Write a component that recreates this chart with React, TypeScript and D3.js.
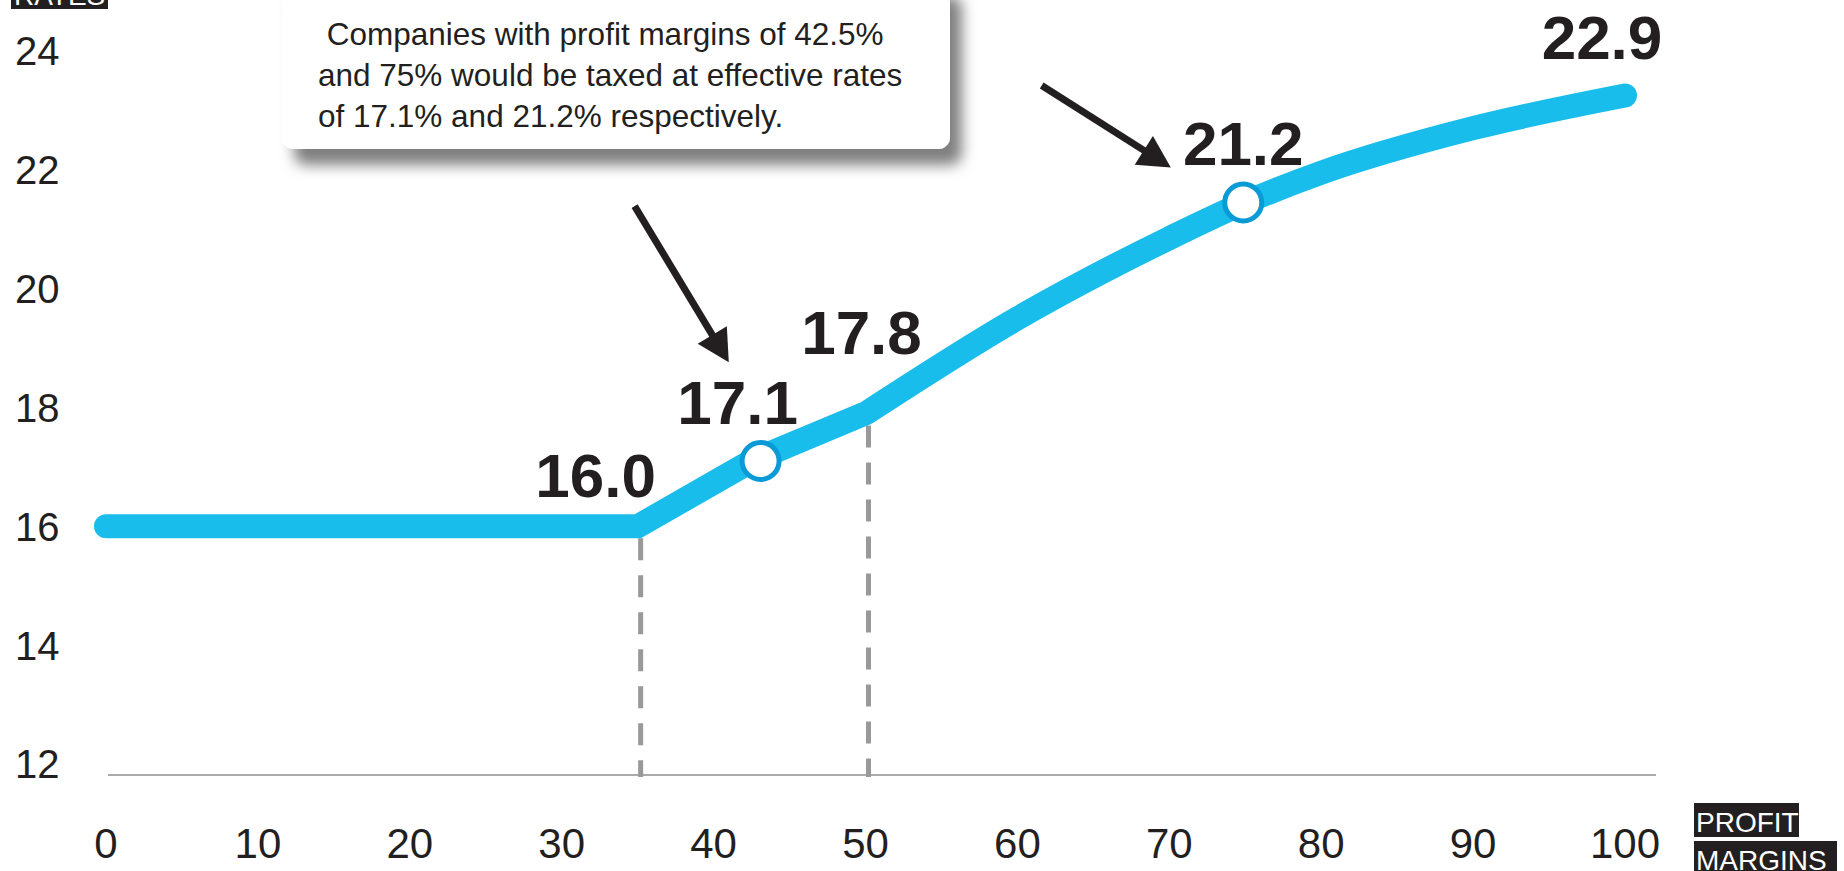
import React from "react";
import * as d3 from "d3";

// profit margin (%) -> effective tax rate (%)
const margins = [0, 35, 42.5, 50, 60, 70, 75, 80, 90, 100];
const rates = [16, 16, 17.1, 17.9, 19.5, 20.85, 21.45, 21.95, 22.7, 23.25];

// printed value labels
const labelMargins = [35, 42.5, 50, 75, 100];
const labelTexts = ["16.0", "17.1", "17.8", "21.2", "22.9"];

// highlighted companies (open circles)
const markedMargins = [42.5, 75];

// the two kinks with dashed drop lines
const kinkMargins = [35, 50];

const xTickValues = [0, 10, 20, 30, 40, 50, 60, 70, 80, 90, 100];
const yTickValues = [12, 14, 16, 18, 20, 22, 24];

const noteLines = [
  " Companies with profit margins of 42.5%",
  "and 75% would be taxed at effective rates",
  "of 17.1% and 21.2% respectively.",
];

const W = 1844, H = 871;
const font = "'Liberation Sans', Arial, Helvetica, sans-serif";
const ink = "#231f20";
const blue = "#18bdec";

const App = () => {
  const x = d3.scaleLinear().domain([0, 100]).range([106, 1625]);
  const y = d3.scaleLinear().domain([12, 24]).range([764, 51]);

  const pts: [number, number][] = margins.map((m, i) => [m, rates[i]]);
  const rateAt = (m: number) => rates[margins.indexOf(m)];

  const straight = d3.line<[number, number]>()
    .x(d => x(d[0]))
    .y(d => y(d[1]))
    .curve(d3.curveLinear);
  const bent = d3.line<[number, number]>()
    .x(d => x(d[0]))
    .y(d => y(d[1]))
    .curve(d3.curveMonotoneX);

  // straight up to the 50% kink, smooth after it
  const p1 = straight(pts.filter(d => d[0] <= 50)) || "";
  const p2 = (bent(pts.filter(d => d[0] >= 50)) || "").replace(/^M[^A-Za-z]*/, "");
  const path = p1 + p2;

  const base = y(12) + 11;

  // arrows in data space: [tailMargin, tailRate, tipMargin, tipRate]
  const arrows = [
    [34.8, 21.39, 41.0, 18.76],
    [61.6, 23.42, 70.1, 22.04],
  ];

  const arrow = (a: number[], i: number) => {
    const x0 = x(a[0]), y0 = y(a[1]), x1 = x(a[2]), y1 = y(a[3]);
    const ang = Math.atan2(y1 - y0, x1 - x0);
    const len = 32, hw = 17;
    const bx = x1 - len * Math.cos(ang), by = y1 - len * Math.sin(ang);
    const nx = -Math.sin(ang), ny = Math.cos(ang);
    return (
      <g key={"ar" + i}>
        <line x1={x0} y1={y0} x2={bx + 2 * Math.cos(ang)} y2={by + 2 * Math.sin(ang)} stroke={ink} strokeWidth={7} />
        <polygon
          points={`${x1},${y1} ${bx + nx * hw},${by + ny * hw} ${bx - nx * hw},${by - ny * hw}`}
          fill={ink}
        />
      </g>
    );
  };

  // label offsets relative to the point
  const labelOffsets = [
    [-42, -29],
    [-14, -37],
    [-4, -59],
    [-2, -38],
    [-23, -37],
  ];
  const circleShift = [9, -2];

  return (
    <svg width={W} height={H} style={{ position: "absolute", left: 0, top: 0, background: "#fff" }}>
      <defs>
        <filter id="sh" x="-10%" y="-30%" width="130%" height="180%">
          <feDropShadow dx="12" dy="16" stdDeviation="7" floodColor="#000" floodOpacity="0.5" />
        </filter>
      </defs>

      {/* y ticks */}
      {yTickValues.map(v => (
        <text key={"y" + v} x={15} y={y(v)} dy="0.36em" fontFamily={font} fontSize={40} fill={ink}>
          {v}
        </text>
      ))}

      {/* x ticks */}
      {xTickValues.map(v => (
        <text key={"x" + v} x={x(v)} y={858} textAnchor="middle" fontFamily={font} fontSize={42} fill={ink}>
          {v}
        </text>
      ))}

      {/* baseline */}
      <line x1={108} x2={1656} y1={base} y2={base} stroke="#aaa" strokeWidth={2} />

      {/* dashed drop lines */}
      {kinkMargins.map(m => (
        <line
          key={"k" + m}
          x1={x(m) + 3}
          x2={x(m) + 3}
          y1={y(rateAt(m)) + 12}
          y2={base + 2}
          stroke="#999"
          strokeWidth={5}
          strokeDasharray="22 15"
        />
      ))}

      {/* main line */}
      <path d={path} fill="none" stroke={blue} strokeWidth={24} strokeLinecap="round" strokeLinejoin="miter" />

      {/* marked companies */}
      {markedMargins.map((m, i) => (
        <circle key={"c" + m} cx={x(m) + circleShift[i]} cy={y(rateAt(m))} r={18.5} fill="#fff" stroke="#0a9ad6" strokeWidth={5} />
      ))}

      {/* value labels */}
      {labelMargins.map((m, i) => (
        <text
          key={"l" + m}
          x={x(m) + labelOffsets[i][0]}
          y={y(rateAt(m)) + labelOffsets[i][1]}
          textAnchor="middle"
          fontFamily={font}
          fontWeight="bold"
          fontSize={62}
          fill={ink}
        >
          {labelTexts[i]}
        </text>
      ))}

      {arrows.map(arrow)}

      {/* note box */}
      <g filter="url(#sh)">
        <rect x={282} y={-20} width={668} height={169} rx={12} fill="#fff" />
      </g>
      {noteLines.map((t, i) => (
        <text key={"n" + i} x={318} y={45 + i * 41} fontFamily={font} fontSize={31.5} fill={ink} xmlSpace="preserve" style={{ whiteSpace: "pre" }}>
          {t}
        </text>
      ))}

      {/* axis titles */}
      <rect x={11} y={-26} width={97} height={35} fill={ink} />
      <text x={14} y={5} fontFamily={font} fontSize={28} fill="#fff">RATES</text>

      <rect x={1694} y={803} width={105} height={34} fill={ink} />
      <text x={1696} y={832} fontFamily={font} fontSize={28} fill="#fff">PROFIT</text>
      <rect x={1694} y={841} width={143} height={34} fill={ink} />
      <text x={1696} y={870} fontFamily={font} fontSize={28} fill="#fff">MARGINS</text>
    </svg>
  );
};

export default App;
